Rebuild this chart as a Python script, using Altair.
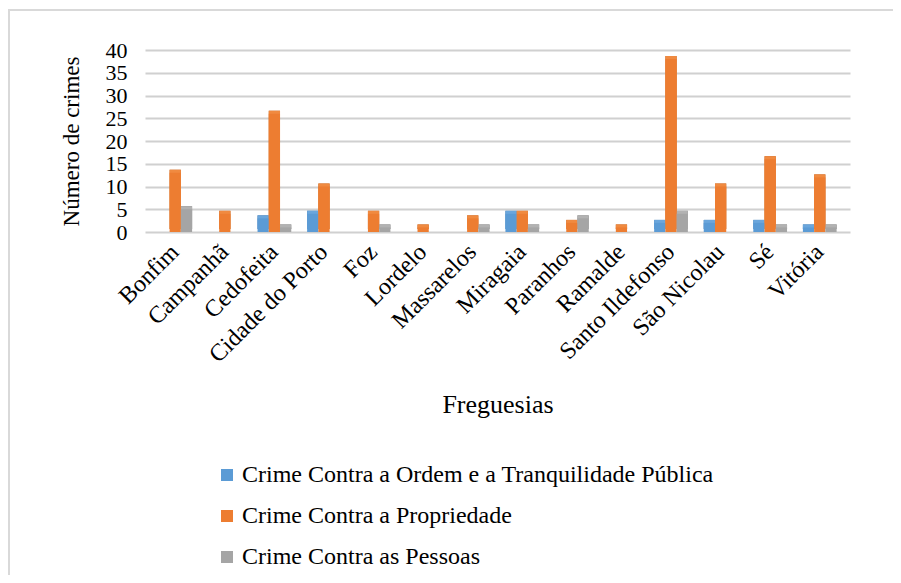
import altair as alt
import pandas as pd

freguesias = ["Bonfim", "Campanhã", "Cedofeita", "Cidade do Porto", "Foz", "Lordelo",
              "Massarelos", "Miragaia", "Paranhos", "Ramalde", "Santo Ildefonso",
              "São Nicolau", "Sé", "Vitória"]
series = ["Crime Contra a Ordem e a Tranquilidade Pública",
          "Crime Contra a Propriedade",
          "Crime Contra as Pessoas"]
ordem = [0, 0, 3, 4, 0, 0, 0, 4, 0, 0, 2, 2, 2, 1]
propriedade = [13, 4, 26, 10, 4, 1, 3, 4, 2, 1, 38, 10, 16, 12]
pessoas = [5, 0, 1, 0, 1, 0, 1, 1, 3, 0, 4, 0, 1, 1]
colors = ["#5B9BD5", "#ED7D31", "#A5A5A5"]
top_colors = ["#6AA6DC", "#F08A40", "#B2B2B2"]
dark_colors = ["#3E72A3", "#B35A1E", "#777777"]

rows = []
for vals, s in zip([ordem, propriedade, pessoas], series):
    for f, v in zip(freguesias, vals):
        rows.append({"Freguesia": f, "Série": s, "Valor": v})
df = pd.DataFrame(rows)

FONT = "Liberation Serif"

x_enc = alt.X("Freguesia:N", sort=freguesias,
              scale=alt.Scale(paddingInner=0.32, paddingOuter=0.27),
              axis=alt.Axis(title="Freguesias", labelAngle=-45, labelAlign="right",
                            labelBaseline="middle", labelFontSize=24, labelFont=FONT,
                            labelColor="#000", labelPadding=16, ticks=False, domain=False,
                            labelOverlap=False,
                            titleFont=FONT, titleFontSize=26, titleFontWeight="normal",
                            titleColor="#000", titlePadding=25))
y_enc = alt.Y("Valor:Q", scale=alt.Scale(domain=[0, 40]),
              axis=alt.Axis(title="Número de crimes", values=list(range(0, 41, 5)),
                            labelFontSize=22, labelFont=FONT, labelColor="#000",
                            labelPadding=18, ticks=False, domain=False,
                            labelOverlap=False,
                            gridColor="#D0D0D0", gridWidth=2,
                            titleFont=FONT, titleFontSize=23, titleFontWeight="normal",
                            titleColor="#000", titlePadding=22))
xoff = alt.XOffset("Série:N", sort=series)

side = alt.Chart(df).mark_bar(xOffset=3, yOffset=-3).encode(
    x=x_enc, xOffset=xoff, y=y_enc,
    color=alt.Color("Série:N", sort=series,
                    scale=alt.Scale(domain=series, range=dark_colors), legend=None),
)

top = alt.Chart(df).mark_bar(xOffset=1.5, yOffset=-3).encode(
    x=x_enc, xOffset=xoff, y=y_enc,
    color=alt.Color("Série:N", sort=series,
                    scale=alt.Scale(domain=series, range=top_colors), legend=None),
)

bars = alt.Chart(df).mark_bar().encode(
    x=x_enc, xOffset=xoff, y=y_enc,
    fill=alt.Fill("Série:N", sort=series,
                  scale=alt.Scale(domain=series, range=colors),
                  legend=alt.Legend(title=None, orient="none", legendX=70, legendY=413,
                                    direction="vertical", symbolType="square",
                                    symbolSize=144, labelFont=FONT, labelFontSize=24,
                                    labelColor="#000", rowPadding=17, labelLimit=700,
                                    symbolStrokeWidth=0, labelOffset=3)),
)

border = alt.Chart(pd.DataFrame({"b": [0]})).mark_rect(
    fill=None, stroke="#D9D9D9", strokeWidth=2
).encode(x=alt.value(-136), x2=alt.value(752), y=alt.value(-40), y2=alt.value(600))

chart = alt.layer(border, side, top, bars).resolve_scale(color="independent").properties(
    width=705, height=182,
    autosize=alt.AutoSizeParams(type="none"),
    padding={"left": 137, "top": 42, "right": 43, "bottom": 343},
).configure_view(stroke=None)

chart.save("out.html", embed_options={"renderer": "svg", "actions": False})
